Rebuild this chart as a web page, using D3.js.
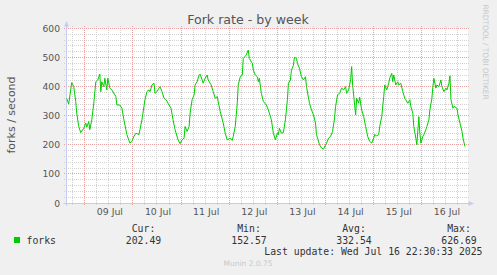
<!DOCTYPE html>
<html><head><meta charset="utf-8">
<script src="https://cdn.jsdelivr.net/npm/d3@7"></script>
<style>
html,body{margin:0;padding:0;background:#f0f0f0;}
svg{display:block;}
</style></head>
<body>
<svg id="chart" width="497" height="275"></svg>
<script>
// ---- data ----
const title = "Fork rate - by week";
const yLabel = "forks / second";
const seriesName = "forks";
// hours since 2025-07-08 00:00
const hours = [
 15,16,17.5,18.5,19.5,20,21,22,23.5,24.5,
 25,26,26.5,27.5,28.5,29.5,30.5,31.5,32,32.5,
 33.5,34,35,35.5,36.5,37.5,39.5,40,41.5,42.5,
 43.5,44.5,45,46.5,47.5,48.5,49.5,51,51.5,52.5,
 53.5,54,55,56,56.5,57.5,58.5,59,60,61,
 61.5,62.5,63.5,64.5,66,67,68,69,70.5,71.5,
 72.5,73.5,74,75,76,76.5,77.5,78.5,79,80,
 81,81.5,82.5,83,84,85,85.5,87,88,89,
 90,90.5,91.5,93,94,95,96.5,97.5,98,99,
 100,100.5,101.5,102.5,103,104.5,105.5,106,107.5,108,
 109,110,110.5,111,112,113,114.5,115.5,117,118,
 119,120,120.5,121,122,123,124,125,125.5,126.5,
 127,128,128.5,129.5,130,131,132,133,134,134.5,
 136,137,138,139,139.5,141,142,143,144,144.5,
 145.5,146.5,147.5,148.5,149,150,151,152,153,154,
 154.5,155.5,156.5,157,157.5,158.5,159,159.5,160.5,161,
 162,163,164,165,166,167,168,168.5,169.5,170.5,
 171,172,173,173.5,174.5,175.5,176,177,177.5,178,
 179,180,180.5,181.5,182.5,183.5,184,185,186,186.5,
 187.5,188,189,189.5,190.5,191,191.5,192.5,193,194,
 194.5,195.5,196,197,197.5,198,199,199.5,200.5,201.5,
 202,203,204,204.5,205.5,206,206.5,207.5,208,209.5,
 210,211,212,212.5,213.5
];
const forks = [
 360,340,414,400,349,309,263,242,257,275,
 261,280,252,286,343,417,423,443,383,417,
 400,429,389,429,395,389,366,337,337,326,
 286,252,235,206,212,229,240,235,252,286,
 332,355,383,389,383,406,412,377,383,395,
 400,383,360,355,337,326,286,252,217,204,
 217,223,263,246,263,309,355,372,406,417,
 440,443,423,412,429,440,423,406,383,360,
 366,349,315,275,240,217,223,215,229,263,
 343,406,434,440,497,509,526,497,480,457,
 440,434,417,429,377,349,337,320,286,240,
 217,240,235,257,240,242,286,355,412,423,
 457,474,501,497,480,463,434,423,434,400,
 343,320,303,275,235,200,189,185,200,206,
 223,229,246,292,332,372,377,395,389,400,
 377,389,423,469,406,337,303,360,343,364,
 320,297,263,229,212,206,223,235,231,235,
 263,297,366,406,389,412,429,446,417,440,
 406,417,406,412,383,360,355,343,355,332,
 309,263,223,200,297,240,206,229,235,252,
 263,286,320,360,400,429,395,406,400,423,
 400,383,395,389,412,437,355,326,332,326,
 303,275,246,223,194
];
const yTicks = [0,100,200,300,400,500,600];
const legendHeaders = ["Cur:","Min:","Avg:","Max:"];
const legendValues = ["202.49","152.57","332.54","626.69"];
const lastUpdate = "Last update: Wed Jul 16 22:30:33 2025";
const footer = "Munin 2.0.75";
const watermark = "RRDTOOL / TOBI OETIKER";
const startHour = 14.9, endHour = 214.5;

// ---- layout ----
const base = Date.UTC(2025,6,8);
const toDate = h => new Date(base + h*3600e3);
const L = 66.5, R = 467, T = 28.5, B = 203;

const svg = d3.select("#chart");
svg.append("rect").attr("width",497).attr("height",275).attr("fill","#f0f0f0");

const x = d3.scaleUtc().domain([toDate(startHour), toDate(endHour)]).range([L, R]);
const y = d3.scaleLinear().domain([0,600]).range([B, T]);
const snap = v => Math.round(v - 0.5) + 0.5;

svg.append("rect").attr("x",L).attr("y",T).attr("width",R-L+1).attr("height",B-T).attr("fill","#fff");

const minorCol = "#d2d2d2", majorCol = "#e8a2a2";
const grid = svg.append("g");
const hLine = (v,col) => {
  const yy = snap(y(v));
  grid.append("line").attr("x1",64).attr("x2",469).attr("y1",yy).attr("y2",yy)
   .attr("stroke",col).attr("stroke-dasharray","1,1");
};
const vLine = (d,col) => {
  const xx = snap(x(d));
  grid.append("line").attr("x1",xx).attr("x2",xx).attr("y1",26).attr("y2",206)
   .attr("stroke",col).attr("stroke-dasharray","1,1");
};
// minor grid
d3.range(0,601,20).filter(v=>v%100!==0).forEach(v=>hLine(v,minorCol));
const sixH = d3.utcHour.every(6).range(x.domain()[0], x.domain()[1]);
sixH.filter(d=>d.getUTCHours()!==0).forEach(d=>vLine(d,minorCol));
// major grid
yTicks.forEach(v=>hLine(v,majorCol));
const days = d3.utcDay.range(x.domain()[0], x.domain()[1]);
days.forEach(d=>vLine(d,majorCol));

// axes
const axisCol = "#c6cbf2";
svg.append("line").attr("x1",L).attr("x2",L).attr("y1",B+3).attr("y2",24).attr("stroke",axisCol);
svg.append("path").attr("d",`M${L-2.5},26.5L${L+2.5},26.5L${L},21Z`).attr("fill",axisCol);
svg.append("line").attr("x1",L-3).attr("x2",469).attr("y1",snap(B)).attr("y2",snap(B)).attr("stroke",axisCol);
svg.append("path").attr("d",`M468.5,${B-2}L468.5,${B+3}L474,${B+0.5}Z`).attr("fill",axisCol);

const tickFont = "DejaVu Sans";
// y tick labels
yTicks.forEach(v=>{
  svg.append("text").attr("x",60).attr("y",y(v)+3.5).attr("text-anchor","end")
   .attr("font-family",tickFont).attr("font-size",9.2).attr("fill","#555").text(v);
});
// x tick labels at noon
const fmt = d3.utcFormat("%d %b");
days.forEach(d=>{
  const noon = d3.utcHour.offset(d,12);
  if (noon > x.domain()[1] || noon < x.domain()[0]) return;
  svg.append("text").attr("x",x(noon)+1).attr("y",215).attr("text-anchor","middle")
   .attr("font-family",tickFont).attr("font-size",9.4).attr("fill","#555").text(fmt(noon));
});
// y axis label
svg.append("text").attr("transform","translate(14.5,115) rotate(-90)").attr("text-anchor","middle")
  .attr("font-family",tickFont).attr("font-size",11).attr("fill","#555").text(yLabel);
// title
svg.append("text").attr("x",248).attr("y",24).attr("text-anchor","middle")
  .attr("font-family",tickFont).attr("font-size",12.6).attr("fill","#555").text(title);
// watermark
svg.append("text").attr("transform","translate(483,52) rotate(90)").attr("text-anchor","middle")
  .attr("font-family",tickFont).attr("font-size",7.4).attr("fill","#c8c8c8").text(watermark);

// line
const data = d3.zip(hours, forks).map(([h,v])=>({t:toDate(h), v}));
svg.append("path").datum(data)
  .attr("d", d3.line().x(d=>x(d.t)).y(d=>y(d.v)))
  .attr("fill","none").attr("stroke","#00cc00").attr("stroke-width",1);

// legend
const mono = "DejaVu Sans Mono";
svg.append("rect").attr("x",14).attr("y",237).attr("width",6).attr("height",6).attr("fill","#00cc00");
svg.append("text").attr("x",26.5).attr("y",243.5).attr("font-family",mono).attr("font-size",9.8).attr("fill","#333").text(seriesName);
const colX = [143.5,249,354,459];
legendHeaders.forEach((h,i)=>{
  svg.append("text").attr("x",colX[i]).attr("y",231.5).attr("text-anchor","middle")
   .attr("font-family",mono).attr("font-size",9.8).attr("fill","#333").text(h);
  svg.append("text").attr("x",colX[i]).attr("y",243.5).attr("text-anchor","middle")
   .attr("font-family",mono).attr("font-size",9.8).attr("fill","#333").text(legendValues[i]);
});
svg.append("text").attr("x",482.5).attr("y",255.3).attr("text-anchor","end")
  .attr("font-family",mono).attr("font-size",9.8).attr("fill","#333").text(lastUpdate);
svg.append("text").attr("x",248).attr("y",266).attr("text-anchor","middle")
  .attr("font-family",tickFont).attr("font-size",7.5).attr("fill","#c8c8c8").text(footer);
</script>
</body></html>
